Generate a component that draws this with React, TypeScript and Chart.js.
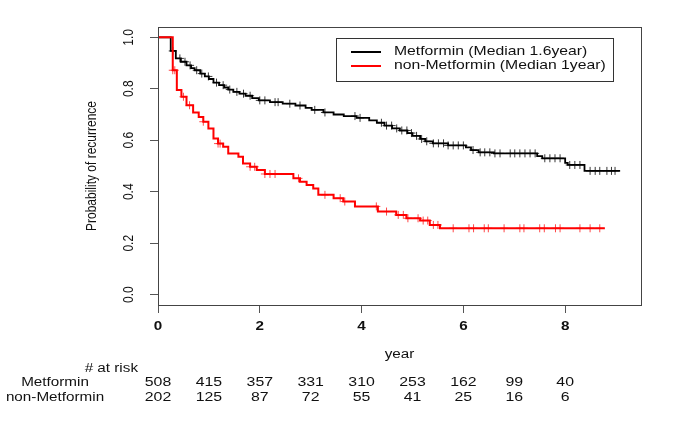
import React, { useEffect, useRef } from "react";
import { Chart, registerables } from "chart.js";

Chart.register(...registerables);

// ---- data ----
const xTicks = [0, 2, 4, 6, 8];
const yTicks = [0, 0.2, 0.4, 0.6, 0.8, 1.0];
const seriesNames = ["Metformin (Median 1.6year)", "non-Metformin (Median 1year)"];
const groupNames = ["Metformin", "non-Metformin"];
const riskTimes = [0, 1, 2, 3, 4, 5, 6, 7, 8];
const metRisk = [508, 415, 357, 331, 310, 253, 162, 99, 40];
const nonRisk = [202, 125, 87, 72, 55, 41, 25, 16, 6];

const metTimes = [0, 0.25, 0.35, 0.45, 0.56, 0.65, 0.72, 0.83, 0.92, 1.0, 1.09, 1.2, 1.3, 1.38, 1.48, 1.6, 1.72, 1.85, 1.98, 2.2, 2.45, 2.7, 2.9, 3.02, 3.25, 3.45, 3.65, 3.9, 4.15, 4.3, 4.45, 4.6, 4.75, 4.9, 5.0, 5.15, 5.25, 5.4, 5.7, 6.05, 6.15, 6.3, 6.6, 7.45, 7.55, 8.0, 8.05, 8.38];
const metSurv = [1, 0.947, 0.918, 0.905, 0.891, 0.88, 0.872, 0.859, 0.848, 0.838, 0.824, 0.814, 0.805, 0.797, 0.788, 0.781, 0.773, 0.764, 0.755, 0.748, 0.742, 0.735, 0.726, 0.718, 0.708, 0.7, 0.694, 0.687, 0.677, 0.668, 0.657, 0.646, 0.638, 0.628, 0.617, 0.605, 0.596, 0.588, 0.58, 0.572, 0.562, 0.553, 0.549, 0.538, 0.53, 0.512, 0.504, 0.481];
const metEnd = 9.08;
const metCensor = [0.29, 0.43, 0.53, 0.63, 0.76, 0.86, 0.99, 1.15, 1.28, 1.41, 1.55, 1.68, 1.81, 2.0, 2.1, 2.3, 2.36, 2.59, 2.79, 3.08, 3.28, 3.87, 3.97, 4.39, 4.49, 4.59, 4.69, 4.79, 4.89, 4.98, 5.08, 5.18, 5.28, 5.41, 5.51, 5.61, 5.7, 5.8, 5.9, 6.0, 6.19, 6.33, 6.42, 6.52, 6.62, 6.72, 6.92, 7.01, 7.11, 7.21, 7.31, 7.41, 7.6, 7.7, 7.8, 7.9, 8.09, 8.19, 8.29, 8.49, 8.59, 8.68, 8.82, 8.91, 8.98];

const nonTimes = [0, 0.29, 0.37, 0.46, 0.56, 0.69, 0.8, 0.89, 0.99, 1.09, 1.18, 1.28, 1.38, 1.58, 1.67, 1.81, 1.94, 2.1, 2.66, 2.79, 2.92, 3.05, 3.15, 3.45, 3.64, 3.87, 4.32, 4.68, 4.88, 5.15, 5.34, 5.54];
const nonSurv = [1, 0.872, 0.795, 0.769, 0.736, 0.708, 0.69, 0.672, 0.646, 0.607, 0.587, 0.575, 0.549, 0.536, 0.51, 0.497, 0.484, 0.469, 0.452, 0.439, 0.426, 0.413, 0.388, 0.375, 0.362, 0.343, 0.323, 0.31, 0.297, 0.288, 0.271, 0.258];
const nonEnd = 8.78;
const nonCensor = [0.29, 0.33, 0.5, 0.62, 0.89, 1.18, 1.22, 1.81, 1.9, 2.1, 2.2, 2.3, 2.76, 3.28, 3.58, 3.67, 4.29, 4.49, 4.72, 4.82, 4.91, 5.11, 5.21, 5.3, 5.41, 5.5, 5.8, 6.11, 6.2, 6.41, 6.49, 6.8, 7.11, 7.19, 7.5, 7.59, 7.81, 7.9, 8.29, 8.49, 8.68];

// ---- helpers ----
function survAt(times: number[], surv: number[], t: number) {
  let s = surv[0];
  for (let i = 0; i < times.length; i++) if (times[i] <= t) s = surv[i];
  return s;
}
function stepData(times: number[], surv: number[], end: number) {
  const d = times.map((t, i) => ({ x: t, y: surv[i] }));
  d.push({ x: end, y: surv[surv.length - 1] });
  return d;
}
function censorData(times: number[], surv: number[], c: number[]) {
  return c.map((t) => ({ x: t, y: survAt(times, surv, t) }));
}

const FONT = "'Liberation Sans', Arial, sans-serif";
const SX = 1.27;

function txt(ctx: CanvasRenderingContext2D, s: string, x: number, y: number, size: number, align: CanvasTextAlign, rot = 0, weight = "normal") {
  ctx.save();
  ctx.translate(x, y);
  ctx.scale(SX, 1);
  if (rot) ctx.rotate(rot);
  ctx.font = `${weight} ${size}px ${FONT}`;
  ctx.textAlign = align;
  ctx.textBaseline = "middle";
  ctx.fillStyle = "#111";
  ctx.fillText(s, 0, 0);
  ctx.restore();
}

const decor = {
  id: "decor",
  afterDraw(chart: any) {
    const { ctx, chartArea: a, scales } = chart;
    const xs = scales.x;
    const ys = scales.y;
    ctx.save();
    // plot box
    ctx.strokeStyle = "#444";
    ctx.lineWidth = 1;
    ctx.strokeRect(Math.round(a.left) + 0.5, Math.round(a.top) + 0.5, Math.round(a.right - a.left), Math.round(a.bottom - a.top));
    // y tick labels
    yTicks.forEach((v) => txt(ctx, v.toFixed(1), 129, ys.getPixelForValue(v), 12, "center", -Math.PI / 2));
    // y title
    txt(ctx, "Probability of recurrence", 92, (a.top + a.bottom) / 2, 12, "center", -Math.PI / 2);
    // x tick labels
    xTicks.forEach((v) => txt(ctx, String(v), xs.getPixelForValue(v), 327, 12, "center", 0, "bold"));
    // x title
    txt(ctx, "year", (a.left + a.right) / 2, 355, 12, "center");
    // risk table
    txt(ctx, "# at risk", 138, 369, 12, "right");
    txt(ctx, groupNames[0], 55, 383, 12, "center");
    txt(ctx, groupNames[1], 55, 398, 12, "center");
    riskTimes.forEach((t, i) => {
      const px = xs.getPixelForValue(t);
      txt(ctx, String(metRisk[i]), px, 383, 12.5, "center");
      txt(ctx, String(nonRisk[i]), px, 398, 12.5, "center");
    });
    // legend
    ctx.strokeStyle = "#333";
    ctx.lineWidth = 1;
    ctx.strokeRect(336.5, 38.5, 277, 43);
    const colors = ["#000000", "#ff0000"];
    [52, 66].forEach((ly, i) => {
      ctx.strokeStyle = colors[i];
      ctx.lineWidth = 2;
      ctx.beginPath();
      ctx.moveTo(351, ly);
      ctx.lineTo(381, ly);
      ctx.stroke();
      txt(ctx, seriesNames[i], 394, ly, 12.4, "left");
    });
    ctx.restore();
  },
};

export default function App() {
  const ref = useRef<HTMLCanvasElement>(null);
  useEffect(() => {
    if (!ref.current) return;
    const chart = new Chart(ref.current, {
      type: "line",
      data: {
        datasets: [
          {
            label: seriesNames[1],
            data: stepData(nonTimes, nonSurv, nonEnd),
            stepped: "before",
            borderColor: "#ff0000",
            borderWidth: 2,
            pointRadius: 0,
            fill: false,
          },
          {
            label: "nonCensor",
            data: censorData(nonTimes, nonSurv, nonCensor),
            showLine: false,
            pointStyle: "cross",
            pointRadius: 4,
            pointBorderWidth: 1,
            pointBorderColor: "rgba(255,40,40,0.85)",
            borderColor: "rgba(255,40,40,0.85)",
          },
          {
            label: seriesNames[0],
            data: stepData(metTimes, metSurv, metEnd),
            stepped: "before",
            borderColor: "#000000",
            borderWidth: 1.8,
            pointRadius: 0,
            fill: false,
          },
          {
            label: "metCensor",
            data: censorData(metTimes, metSurv, metCensor),
            showLine: false,
            pointStyle: "cross",
            pointRadius: 4,
            pointBorderWidth: 1,
            pointBorderColor: "rgba(20,20,20,0.85)",
            borderColor: "rgba(20,20,20,0.85)",
          },
        ] as any,
      },
      options: {
        animation: false,
        responsive: false,
        devicePixelRatio: 1,
        layout: { padding: { left: 138, right: 49, top: 27, bottom: 90 } },
        plugins: { legend: { display: false }, tooltip: { enabled: false } },
        scales: {
          x: {
            type: "linear",
            min: 0,
            max: 9.49,
            afterBuildTicks: (s: any) => {
              s.ticks = xTicks.map((v) => ({ value: v }));
            },
            afterFit: (s: any) => {
              s.height = 30;
            },
            ticks: { display: false },
            grid: { drawOnChartArea: false, drawTicks: true, tickLength: 8, color: "#555" },
            border: { display: false },
          },
          y: {
            type: "linear",
            min: -0.04,
            max: 1.04,
            afterBuildTicks: (s: any) => {
              s.ticks = yTicks.map((v) => ({ value: v }));
            },
            afterFit: (s: any) => {
              s.width = 20;
            },
            ticks: { display: false },
            grid: { drawOnChartArea: false, drawTicks: true, tickLength: 8, color: "#555" },
            border: { display: false },
          },
        },
      },
      plugins: [decor],
    });
    return () => chart.destroy();
  }, []);
  return (
    <div style={{ position: "absolute", left: 0, top: 0, width: 690, height: 425, background: "#fff" }}>
      <canvas ref={ref} width={690} height={425} style={{ width: 690, height: 425, display: "block" }} />
    </div>
  );
}
